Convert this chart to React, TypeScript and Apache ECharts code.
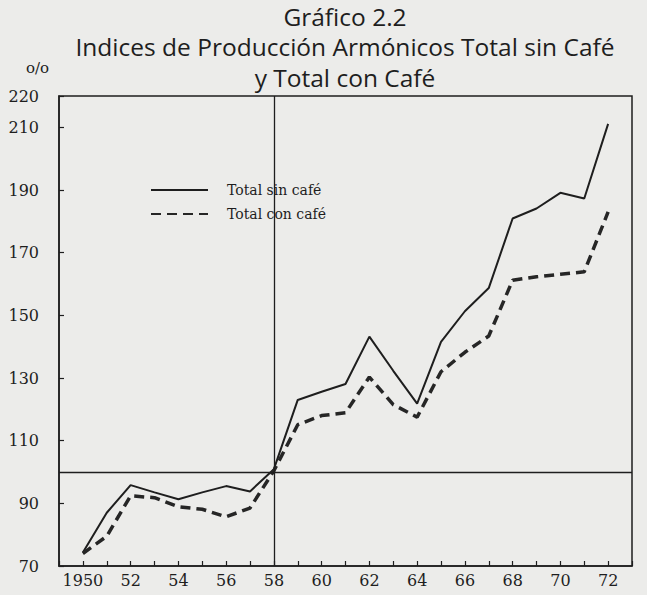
import React, { useEffect, useRef } from "react";
import * as echarts from "echarts";

const years = [1950, 1951, 1952, 1953, 1954, 1955, 1956, 1957, 1958, 1959, 1960, 1961, 1962, 1963, 1964, 1965, 1966, 1967, 1968, 1969, 1970, 1971, 1972];
const totalSinCafe = [74.3, 87.0, 95.8, 93.5, 91.3, 93.5, 95.5, 93.8, 100.9, 123.0, 125.6, 128.1, 143.2, 132.3, 121.8, 141.5, 151.3, 158.7, 180.9, 184.1, 189.1, 187.3, 211.1];
const totalConCafe = [74.0, 79.5, 92.4, 91.8, 88.9, 88.1, 85.7, 88.5, 100.4, 115.1, 118.0, 118.9, 130.3, 121.5, 117.5, 132.0, 138.2, 143.4, 161.2, 162.3, 163.1, 163.9, 183.0];
const seriesNames = ["Total sin café", "Total con café"];
const titleLines = ["Gráfico 2.2", "Indices de Producción Armónicos Total sin Café", "y Total con Café"];
const yTicks = { min: 70, max: 220, step: 20 };
const xRange = { min: 1949, max: 1973 };
const refLines = { year: 1958, index: 100 };

const ink = "#1e1e1e";
const serif = "DejaVu Serif";

export default function App() {
  const ref = useRef<HTMLDivElement>(null);
  useEffect(() => {
    if (!ref.current) return;
    const chart = echarts.init(ref.current, undefined, { renderer: "svg" });
    const sin = years.map((y, i) => [y, totalSinCafe[i]]);
    const con = years.map((y, i) => [y, totalConCafe[i]]);
    chart.setOption({
      animation: false,
      backgroundColor: "#ececea",
      title: {
        text: titleLines.join("\n"),
        left: 345,
        textAlign: "center",
        top: 1,
        padding: 0,
        textStyle: {
          fontFamily: "Open Sans",
          fontWeight: "normal",
          fontSize: 24.5,
          lineHeight: 30.5,
          color: ink,
        },
      },
      legend: {
        orient: "vertical",
        left: 150,
        top: 183,
        padding: 0,
        itemWidth: 57,
        itemHeight: 14,
        itemGap: 10,
        itemStyle: { opacity: 0 },
        textStyle: { fontFamily: serif, fontSize: 14, color: ink, padding: [0, 0, 0, 14] },
        data: seriesNames,
      },
      grid: {
        left: 59,
        right: 15,
        top: 96,
        bottom: 29,
        show: true,
        borderColor: ink,
        borderWidth: 1.5,
        backgroundColor: "transparent",
      },
      xAxis: {
        type: "value",
        min: xRange.min,
        max: xRange.max,
        interval: 1,
        splitLine: { show: false },
        axisLine: { show: true, lineStyle: { color: ink, width: 1.5 } },
        axisTick: { show: true, inside: true, length: 5, lineStyle: { color: ink, width: 1.2 } },
        axisLabel: {
          margin: 6,
          fontFamily: serif,
          fontSize: 16,
          color: ink,
          showMinLabel: true,
          showMaxLabel: true,
          formatter: (v: number) => {
            if (v < years[0] || v > years[years.length - 1] || v % 2 !== 0) return "";
            return v === years[0] ? String(v) : String(v).slice(2);
          },
        },
      },
      yAxis: {
        type: "value",
        min: yTicks.min,
        max: yTicks.max,
        interval: yTicks.step,
        name: "o/o",
        nameLocation: "end",
        nameGap: 21,
        nameTextStyle: { fontFamily: serif, fontSize: 15, color: ink, align: "right", verticalAlign: "bottom", padding: [0, 10, 0, 0] },
        splitLine: { show: false },
        axisLine: { show: true, lineStyle: { color: ink, width: 1.5 } },
        axisTick: { show: true, inside: true, length: 5, lineStyle: { color: ink, width: 1.2 } },
        axisLabel: { margin: 20, fontFamily: serif, fontSize: 16, color: ink, showMaxLabel: true },
      },
      series: [
        {
          name: seriesNames[0],
          type: "line",
          data: sin,
          symbol: "none",
          lineStyle: { color: ink, width: 2 },
          itemStyle: { color: ink },
          markLine: {
            silent: true,
            symbol: ["none", "none"],
            label: { show: false },
            lineStyle: { color: ink, width: 1.3, type: "solid" },
            data: [{ yAxis: refLines.index }, { xAxis: refLines.year }],
          },
        },
        {
          name: seriesNames[1],
          type: "line",
          data: con,
          symbol: "none",
          lineStyle: { color: "#262626", width: 3.5, type: [10, 6] },
          itemStyle: { color: "#262626" },
        },
      ],
    });
    return () => chart.dispose();
  }, []);
  return <div ref={ref} style={{ position: "fixed", left: 0, top: 0, width: 647, height: 595 }} />;
}
